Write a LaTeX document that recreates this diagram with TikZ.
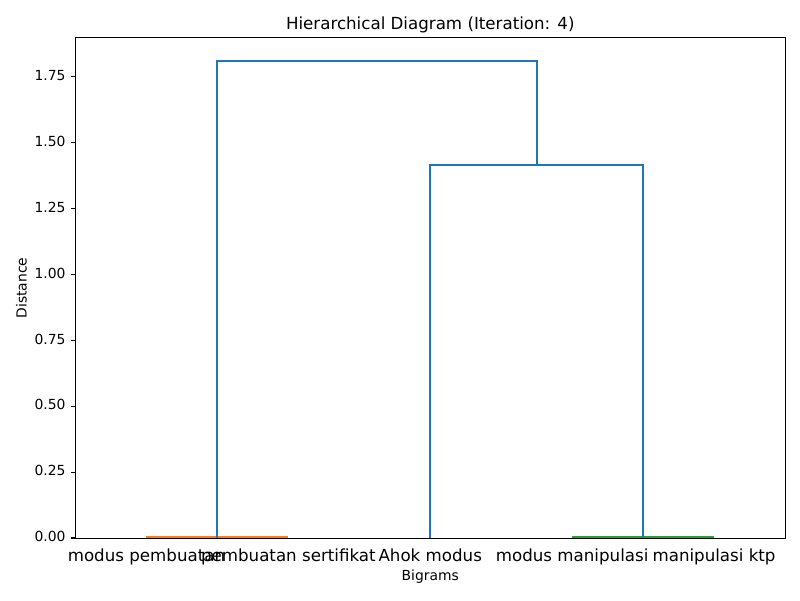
\documentclass[tikz,border=0pt]{standalone}
\usepackage{fontspec}
\setmainfont{DejaVu Sans}
\definecolor{mplblue}{HTML}{1F77B4}
\definecolor{mplorange}{HTML}{FF7F0E}
\definecolor{mplgreen}{HTML}{2CA02C}
\begin{document}
\begin{tikzpicture}[x=0.72pt,y=-0.72pt,
  link/.style={line width=1.5pt,line cap=butt,line join=miter},
  spine/.style={line width=0.8pt,black},
  ticklab/.style={font=\fontsize{10}{12}\selectfont,anchor=mid east,inner sep=0pt},
  leaflab/.style={font=\fontsize{12}{14}\selectfont,anchor=base,inner sep=0pt},
  axlab/.style={font=\fontsize{10}{12}\selectfont,inner sep=0pt},
  titlelab/.style={font=\fontsize{12}{14}\selectfont,anchor=base,inner sep=0pt}]
\useasboundingbox[fill=white] (0,0) rectangle (800,600);
% leaf coordinates (height 0)
\coordinate (l1) at (146.45,536.9);
\coordinate (l2) at (288.35,536.9);
\coordinate (l3) at (430.25,538);
\coordinate (l4) at (572.15,536.9);
\coordinate (l5) at (714.05,536.9);
% merge points
\coordinate (m12) at (217.4,538);
\coordinate (m45) at (643.1,538);
\coordinate (a3) at (430.25,165.1);
\coordinate (a45) at (643.1,165.1);
\coordinate (m345) at (536.7,165.1);
\coordinate (t12) at (217.4,61.2);
\coordinate (t345) at (536.7,61.2);
% links
\draw[link,mplorange] (l1) -- (l2);
\draw[link,mplgreen] (l4) -- (l5);
\draw[link,mplblue] (l3) -- (a3) -- (a45) -- (m45);
\draw[link,mplblue] (m12) -- (t12) -- (t345) -- (m345);
% axes frame
\draw[spine] (75.5,37.5) rectangle (785.5,538.2);
% y ticks
\foreach \v/\lab in {0/0.00,1/0.25,2/0.50,3/0.75,4/1.00,5/1.25,6/1.50,7/1.75}{
  \pgfmathsetmacro{\yy}{538-\v*65.933}
  \draw[spine] (75.5,\yy) -- (70.64,\yy);
  \node[ticklab] (yt\v) at (65.8,\yy) {\lab};
}
% leaf labels
\node[leaflab] (n1) at (146.45,561.5) {modus pembuatan};
\node[leaflab] (n2) at (288.35,561.5) {pembuatan sertifikat};
\node[leaflab] (n3) at (430.25,561.5) {Ahok modus};
\node[leaflab] (n4) at (572.15,561.5) {modus manipulasi};
\node[leaflab] (n5) at (714.05,561.5) {manipulasi ktp};
% axis labels and title
\node[axlab] (xl) at (430.25,577) {Bigrams};
\node[axlab,rotate=90] (yl) at (21.5,288) {Distance};
\node[titlelab] (ti) at (430.25,29.2) {Hierarchical Diagram (Iteration: 4)};
\end{tikzpicture}
\end{document}
